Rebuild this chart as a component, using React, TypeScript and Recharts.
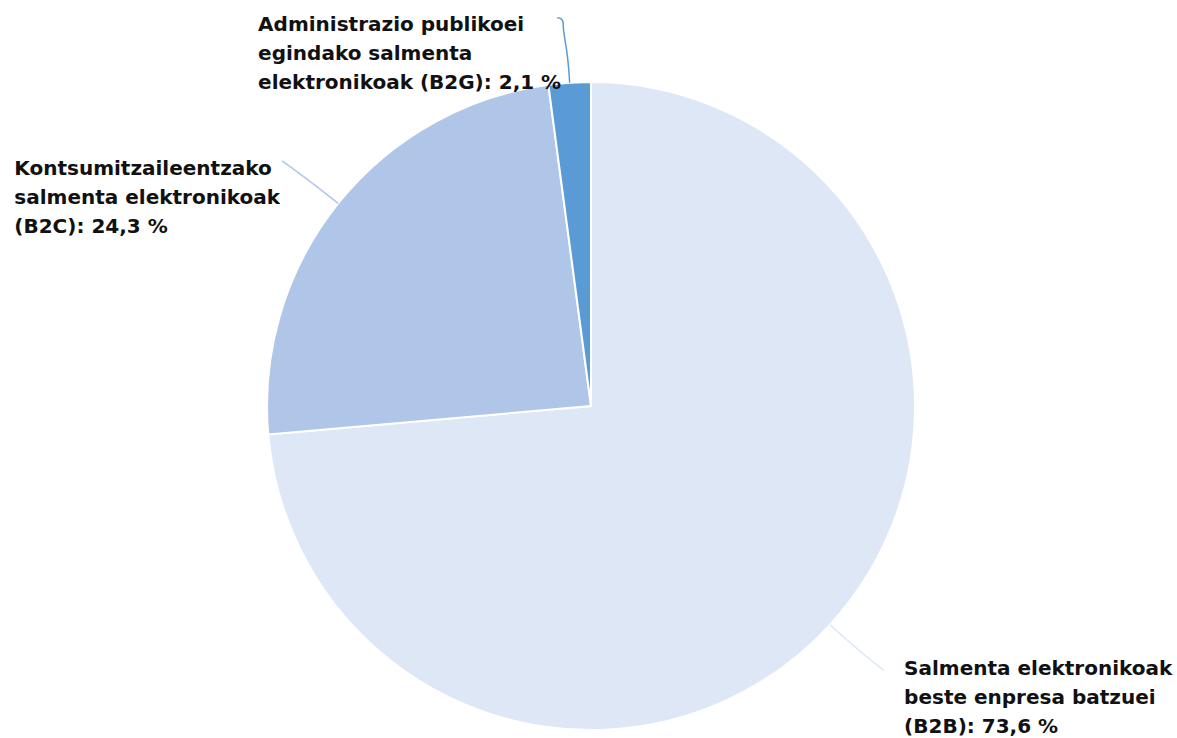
import { PieChart, Pie, Cell } from 'recharts';

const categories = ['B2B', 'B2C', 'B2G'];
const shares = [73.6, 24.3, 2.1];
const labelLines = [
  ['Salmenta elektronikoak', 'beste enpresa batzuei', '(B2B): 73,6 %'],
  ['Kontsumitzaileentzako', 'salmenta elektronikoak', '(B2C): 24,3 %'],
  ['Administrazio publikoei', 'egindako salmenta', 'elektronikoak (B2G): 2,1 %'],
];
const colors = ['#dee7f5', '#afc6e8', '#5b9bd5'];

const data = categories.map((c, i) => ({ name: c, value: shares[i] }));

const RAD = Math.PI / 180;

const renderLabel = (props: any) => {
  const { cx, cy, midAngle, outerRadius, index } = props;
  const cos = Math.cos(-midAngle * RAD);
  const sin = Math.sin(-midAngle * RAD);
  const right = cos >= 0;
  const top = sin < -0.9;
  const sx = cx + outerRadius * cos;
  const sy = cy + outerRadius * sin;
  const mx = cx + (outerRadius + 38) * cos;
  const my = cy + (outerRadius + 38) * sin;
  const ex = cx + (outerRadius + 68) * cos + (right ? 4 : top ? -8 : -3);
  const ey = cy + (outerRadius + 68) * sin + (top ? 3 : 0);
  // near the top the connector bends sideways before reaching the label
  const path = top
    ? `M${sx},${sy} C${sx - 2},${sy - 40} ${ex + 6},${ey + 20} ${ex + 6},${ey + 6} Q${ex + 6},${ey} ${ex},${ey}`
    : `M${sx},${sy} Q${mx},${my} ${ex},${ey}`;
  const boxW = 420;
  const boxX = right ? ex + 20 : ex - boxW + (top ? 4 : -2);
  const boxY = right ? ey - 17 : top ? ey - 8 : ey - 7;
  return (
    <g key={`lbl-${index}`}>
      <path d={path} stroke={colors[index]} strokeWidth={1.5} fill="none" />
      <foreignObject x={boxX} y={boxY} width={boxW} height={90}>
        <div
          style={{
            display: 'flex',
            justifyContent: right ? 'flex-start' : 'flex-end',
            width: '100%',
          }}
        >
          <div
            style={{
              fontFamily: '"DejaVu Sans", sans-serif',
              fontWeight: 'bold',
              fontSize: 20,
              lineHeight: '29px',
              color: '#111',
              textAlign: 'left',
              whiteSpace: 'nowrap',
            }}
          >
            {labelLines[index].map((l, j) => (
              <div key={j}>{l}</div>
            ))}
          </div>
        </div>
      </foreignObject>
    </g>
  );
};

export default function App() {
  return (
    <div
      style={{
        position: 'fixed',
        left: 0,
        top: 0,
        width: 1177,
        height: 738,
        background: '#fff',
        overflow: 'hidden',
      }}
    >
      <PieChart width={1177} height={738} margin={{ top: 0, right: 0, bottom: 0, left: 0 }}>
        <Pie
          data={data}
          dataKey="value"
          nameKey="name"
          cx={591}
          cy={406}
          outerRadius={324}
          startAngle={90}
          endAngle={-270}
          stroke="#ffffff"
          strokeWidth={2}
          label={renderLabel}
          labelLine={false}
          isAnimationActive={false}
        >
          {data.map((d, i) => (
            <Cell key={d.name} fill={colors[i]} />
          ))}
        </Pie>
      </PieChart>
    </div>
  );
}
